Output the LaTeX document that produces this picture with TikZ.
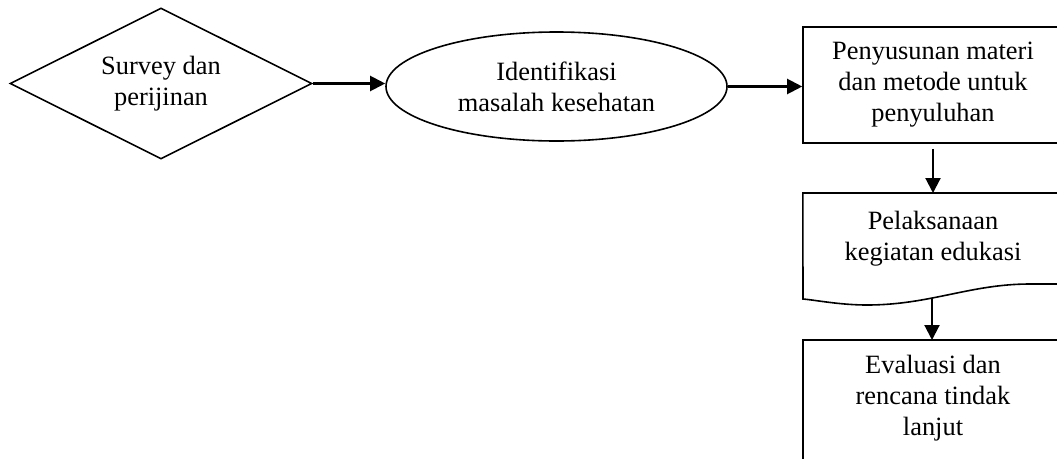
\documentclass[tikz,border=0pt]{standalone}
\usepackage{fontspec}
\setmainfont{Liberation Serif}
\usetikzlibrary{shapes.geometric,arrows.meta}
\begin{document}
\begin{tikzpicture}[x=1pt,y=-1pt,
  txt/.style={align=center,font=\fontsize{26.4}{31}\selectfont,inner sep=0pt},
  box/.style={txt,draw,line width=1.6pt},
  arr/.style={line width=2.1pt,-{Triangle[length=15pt,width=15pt]}}]
\useasboundingbox (0,0) rectangle (1057,458);
\clip (0,0) rectangle (1057,458);
\node[box,diamond,aspect=2,minimum width=302pt,minimum height=151pt] (d) at (161,83.5) {Survey dan\\perijinan};
\node[box,ellipse,minimum width=341pt,minimum height=109pt] (e) at (556.5,86.5) {Identifikasi\\masalah kesehatan};
\node[box,rectangle,minimum width=260pt,minimum height=116pt] (b1) at (933,85) {Penyusunan materi\\dan metode untuk\\penyuluhan};
\node[txt,minimum width=260pt,minimum height=90pt,anchor=north] (b2) at (933,193) {Pelaksanaan\\kegiatan edukasi};
\draw[line width=1.6pt] (b2.north west) -- (b2.north east) -- (1063,284) -- (1030,284)
  .. controls (970,284) and (930,305) .. (867,305)
  .. controls (840,305) and (815,300) .. (803,299) -- cycle;
\coordinate (w) at (932,298);
\node[txt,minimum width=260pt,minimum height=116pt,anchor=north] (b3) at (933,340) {Evaluasi dan\\rencana tindak\\lanjut};
\draw[line width=1.6pt] ([yshift=-40pt]b3.south west) -- (b3.north west) -- (b3.north east) -- ([yshift=-40pt]b3.south east);
\draw[arr] (d.east) -- (d.east -| e.west);
\draw[arr] (e.east) -- (e.east -| b1.west);
\draw[arr,shorten <=5pt] (b1.south) -- (b2.north);
\draw[arr] (w) -- (w |- b3.north);
\end{tikzpicture}
\end{document}
